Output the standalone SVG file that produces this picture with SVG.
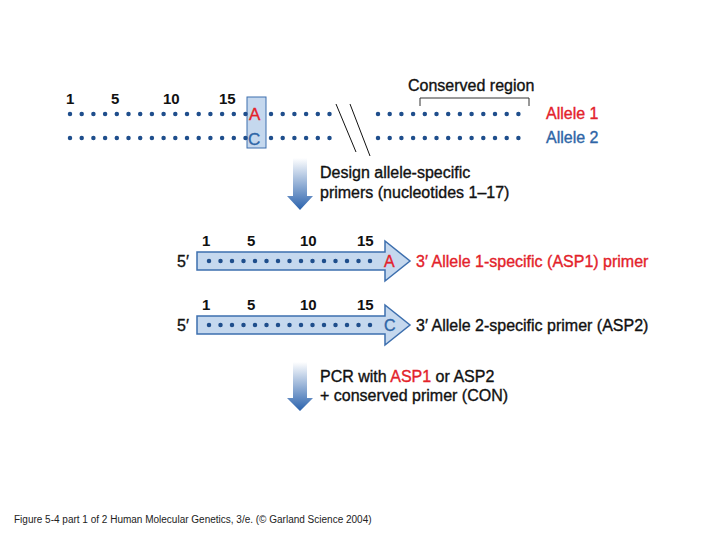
<svg xmlns="http://www.w3.org/2000/svg" width="720" height="540" viewBox="0 0 720 540">
<style>
text{font-family:"Liberation Sans",Arial,sans-serif;font-size:16px;fill:#111;stroke:#111;stroke-width:0.35}
.n{font-weight:bold;font-size:15px;stroke:none}
.r{fill:#e3222b;stroke:#e3222b}.b{fill:#2e65a6;stroke:#2e65a6}
.d{fill:none;stroke:#1f4e8c;stroke-width:4.5;stroke-linecap:round}
.p{fill:#c5d8ee;stroke:#3d6fae;stroke-width:1.5}
.f{font-size:10px;stroke:none;fill:#222}
.L{font-size:17px}
</style>
<defs>
<linearGradient id="g" x1="0" y1="0" x2="0" y2="1"><stop offset="0" stop-color="#fff"/><stop offset="1" stop-color="#2a62ad"/></linearGradient>
</defs>
<rect width="720" height="540" fill="#fff"/>
<g id="alleles">
<text x="66" y="104" class="n">1</text><text x="111" y="104" class="n">5</text><text x="163" y="104" class="n">10</text><text x="219" y="104" class="n">15</text>
<rect x="247" y="97" width="19" height="51" fill="#c5d8ee" stroke="#3d6fae"/>
<text x="249" y="120" class="r L">A</text>
<text x="248" y="145" class="b L">C</text>
<path class="d" stroke-dasharray="0 11.7" d="M70 114H246M70 138H246M271 114H337M271 138H337M378 114H530M378 138H530"/>
<path d="M336 104L356 152M350 104L370 156" stroke="#111" stroke-width="1" fill="none"/>
<path d="M420 106V98H529V106" stroke="#333" fill="none"/>
<text x="408" y="91">Conserved region</text>
<text x="546" y="119" class="r">Allele 1</text>
<text x="546" y="143" class="b">Allele 2</text>
</g>
<g id="arrow1"><path d="M293 158H307V196H313L300 210L287 196H293Z" fill="url(#g)"/>
<text x="320" y="178">Design allele-specific</text><text x="320" y="198">primers (nucleotides 1–17)</text></g>
<g id="primer1">
<text x="177" y="267">5′</text>
<path class="p" d="M197 252H385V241L410 261L385 281V270H197Z"/>
<path class="d" stroke-dasharray="0 11.5" d="M209 261H375"/>
<text x="202" y="246" class="n">1</text><text x="247" y="246" class="n">5</text><text x="300" y="246" class="n">10</text><text x="357" y="246" class="n">15</text>
<text x="384" y="267" class="r">A</text>
<text x="416" y="267" class="r">3′ Allele 1-specific (ASP1) primer</text>
</g>
<g id="primer2">
<text x="177" y="331">5′</text>
<path class="p" d="M197 316H385V305L410 325L385 345V334H197Z"/>
<path class="d" stroke-dasharray="0 11.5" d="M209 325H375"/>
<text x="202" y="310" class="n">1</text><text x="247" y="310" class="n">5</text><text x="300" y="310" class="n">10</text><text x="357" y="310" class="n">15</text>
<text x="384" y="331" class="b">C</text>
<text x="416" y="331">3′ Allele 2-specific primer (ASP2)</text>
</g>
<g id="arrow2"><path d="M293 362H307V398H313L300 411L287 398H293Z" fill="url(#g)"/>
<text x="320" y="382">PCR with <tspan class="r">ASP1</tspan> or ASP2</text><text x="320" y="401">+ conserved primer (CON)</text></g>
<text x="14" y="523" class="f">Figure 5-4 part 1 of 2  Human Molecular Genetics, 3/e.  (© Garland Science 2004)</text>
</svg>
